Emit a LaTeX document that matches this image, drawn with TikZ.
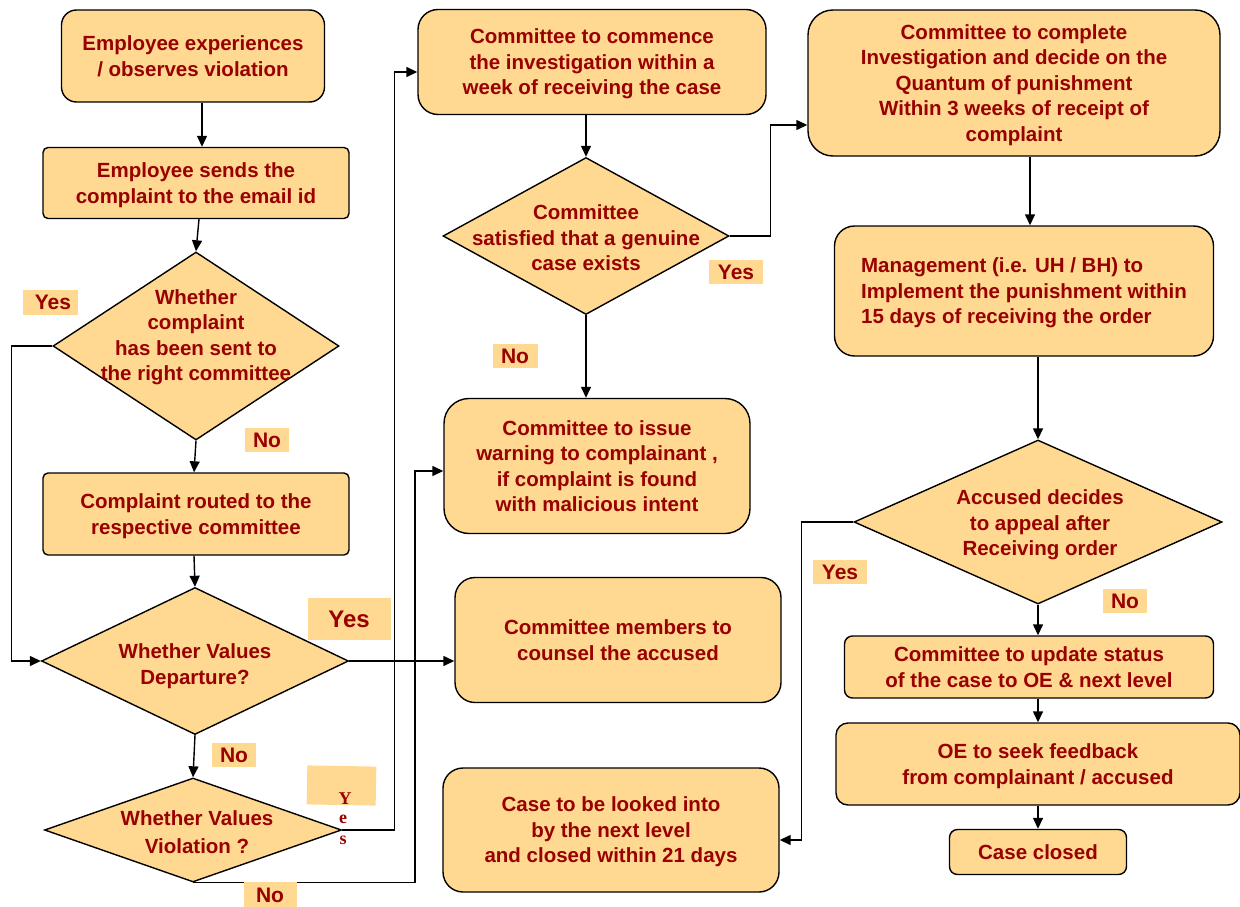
\documentclass[tikz,border=0pt]{standalone}
\usepackage{fontspec}
\setmainfont{Liberation Sans}
\newfontfamily\serifb{Liberation Serif}
\usetikzlibrary{shapes.geometric,arrows.meta}
\definecolor{boxfill}{RGB}{255,217,145}
\definecolor{txt}{RGB}{153,0,0}
\tikzset{
  every node/.style={font=\fontsize{20.5}{25.5}\selectfont\bfseries, text=txt},
  box/.style={draw=black, line width=1.4pt, fill=boxfill, inner sep=0pt, align=center, text depth=0pt},
  dia/.style={diamond, draw=black, line width=1.4pt, fill=boxfill, inner sep=0pt},
  dtext/.style={align=center},
  tag/.style={fill=boxfill, inner sep=0pt, minimum height=24pt},
  conn/.style={line width=1.4pt, draw=black},
  arr/.style={conn, -{Triangle[length=11pt,width=10pt]}},
}
\begin{document}
\begin{tikzpicture}[x=1pt,y=-1pt]
\useasboundingbox (0,0) rectangle (1240,907);
% left column
\node[box, rounded corners=15pt, minimum width=263pt, minimum height=92pt] (A) at (193,56) {Employee experiences\\ / observes violation};
\node[box, rounded corners=5pt, minimum width=306pt, minimum height=71pt] (B) at (196,183) {Employee sends the\\ complaint to the email id};
\node[dia, minimum width=286pt, minimum height=188pt] (C) at (196,346) {};
\node[dtext] (Ct) at (196,337) {Whether\\ complaint\\ has been sent to\\ the right committee};
\node[box, rounded corners=5pt, minimum width=306pt, minimum height=82pt] (D) at (196,514) {Complaint routed to the\\ respective committee};
\node[dia, minimum width=307pt, minimum height=147pt] (E) at (195,661) {};
\node[dtext] (Et) at (195,666) {Whether Values\\ Departure?};
\node[dia, minimum width=297pt, minimum height=104pt] (F) at (193,830) {};
\node[dtext, font=\fontsize{20.5}{28}\selectfont\bfseries] (Ft) at (197,832) {Whether Values\\ Violation ?};
% middle column
\node[box, rounded corners=20pt, minimum width=348pt, minimum height=105pt] (G) at (592,62) {Committee to commence\\ the investigation within a\\ week of receiving the case};
\node[dia, minimum width=286pt, minimum height=157pt] (H) at (586,236) {};
\node[dtext] (Ht) at (586,238) {Committee\\ satisfied that a genuine\\ case exists};
\node[box, rounded corners=25pt, minimum width=306pt, minimum height=135pt] (I) at (597,466) {Committee to issue\\ warning to complainant ,\\ if complaint is found\\ with malicious intent};
\node[box, rounded corners=20pt, minimum width=326pt, minimum height=125pt] (J) at (618,640) {Committee members to\\ counsel the accused};
\node[box, rounded corners=20pt, minimum width=336pt, minimum height=124pt] (K) at (611,830) {Case to be looked into\\ by the next level\\ and closed within 21 days};
% right column
\node[box, rounded corners=25pt, minimum width=412pt, minimum height=146pt] (L) at (1014,83) {Committee to complete\\ Investigation and decide on the\\ Quantum of punishment\\ Within 3 weeks of receipt of\\ complaint};
\node[box, align=left, rounded corners=20pt, minimum width=379pt, minimum height=130pt] (M) at (1024,291) {Management (i.e. UH / BH) to\\ Implement the punishment within\\ 15 days of receiving the order};
\node[dia, minimum width=368pt, minimum height=164pt] (N) at (1038,522) {};
\node[dtext] (Nt) at (1040,525) {Accused decides\\ to appeal after\\ Receiving order};
\node[box, rounded corners=8pt, minimum width=369pt, minimum height=62pt] (O) at (1029,667) {Committee to update status\\ of the case to OE \& next level};
\node[box, rounded corners=12pt, minimum width=404pt, minimum height=82pt] (P) at (1038,764) {OE to seek feedback\\ from complainant / accused};
\node[box, rounded corners=8pt, minimum width=177pt, minimum height=45pt] (Q) at (1038,852) {Case closed};
% connectors
\draw[arr] ([xshift=9pt]A.south) -- ([xshift=6pt]B.north);
\draw[arr] ([xshift=3pt]B.south) -- (C.north);
\draw[arr] (C.south) -- ([xshift=-2pt]D.north);
\draw[arr] (C.west) -- ++(-41pt,0) |- (E.west);
\draw[arr] ([xshift=-2pt]D.south) -- (E.north);
\draw[arr] (E.south) -- (F.north);
\draw[arr] (E.east) -- (E.east -| J.west);
\draw[arr] (F.east) -- ++(52pt,0) |- ([yshift=-10pt]G.west);
\draw[arr] (F.south) -- ++(222pt,0) |- ([yshift=-5pt]I.west);
\draw[arr] (H.north |- G.south) -- (H.north);
\draw[arr] (H.south) -- (H.south |- I.north);
\draw[arr] (H.east) -- ++(41pt,0) |- ([yshift=-42pt]L.west);
\draw[arr] ([xshift=16pt]L.south) -- ([xshift=6pt]M.north);
\draw[arr] (N.north |- M.south) -- (N.north);
\draw[arr] (N.west) -- ++(-52pt,0) |- ([yshift=-10pt]K.east);
\draw[arr] (N.south) -- (N.south |- O.north);
\draw[arr] (P.north |- O.south) -- (P.north);
\draw[arr] (P.south) -- (P.south |- Q.north);
% labels
\node[tag, minimum width=55pt, minimum height=25pt] (y1) at (50,302) {\fontsize{21}{24}\selectfont\bfseries\ Yes};
\node[tag, minimum width=44pt] (n1) at (267,440) {\fontsize{21}{24}\selectfont\bfseries No};
\node[tag, minimum width=83pt, minimum height=42pt] (y2) at (349,619) {\fontsize{24}{28}\selectfont\bfseries Yes};
\node[tag, minimum width=44pt] (n2) at (234,755) {\fontsize{21}{24}\selectfont\bfseries No};
\node[tag, minimum width=69pt, minimum height=39pt, rotate=-1] (y3) at (341.5,785.5) {};
\node[font=\serifb\fontsize{18}{18}\selectfont\bfseries] (y3a) at (345,799) {Y};
\node[font=\serifb\fontsize{18}{18}\selectfont\bfseries] (y3b) at (343,819) {e};
\node[font=\serifb\fontsize{18}{18}\selectfont\bfseries] (y3c) at (343,840) {s};
\node[tag, minimum width=53pt, minimum height=27pt] (n3) at (270,895) {\fontsize{21}{24}\selectfont\bfseries No};
\node[tag, minimum width=54pt] (y4) at (736,272) {\fontsize{21}{24}\selectfont\bfseries Yes};
\node[tag, minimum width=45pt] (n4) at (515,356) {\fontsize{21}{24}\selectfont\bfseries No};
\node[tag, minimum width=54pt] (y5) at (840,572) {\fontsize{21}{24}\selectfont\bfseries Yes};
\node[tag, minimum width=44pt] (n5) at (1125,601) {\fontsize{21}{24}\selectfont\bfseries No};
\end{tikzpicture}
\end{document}
